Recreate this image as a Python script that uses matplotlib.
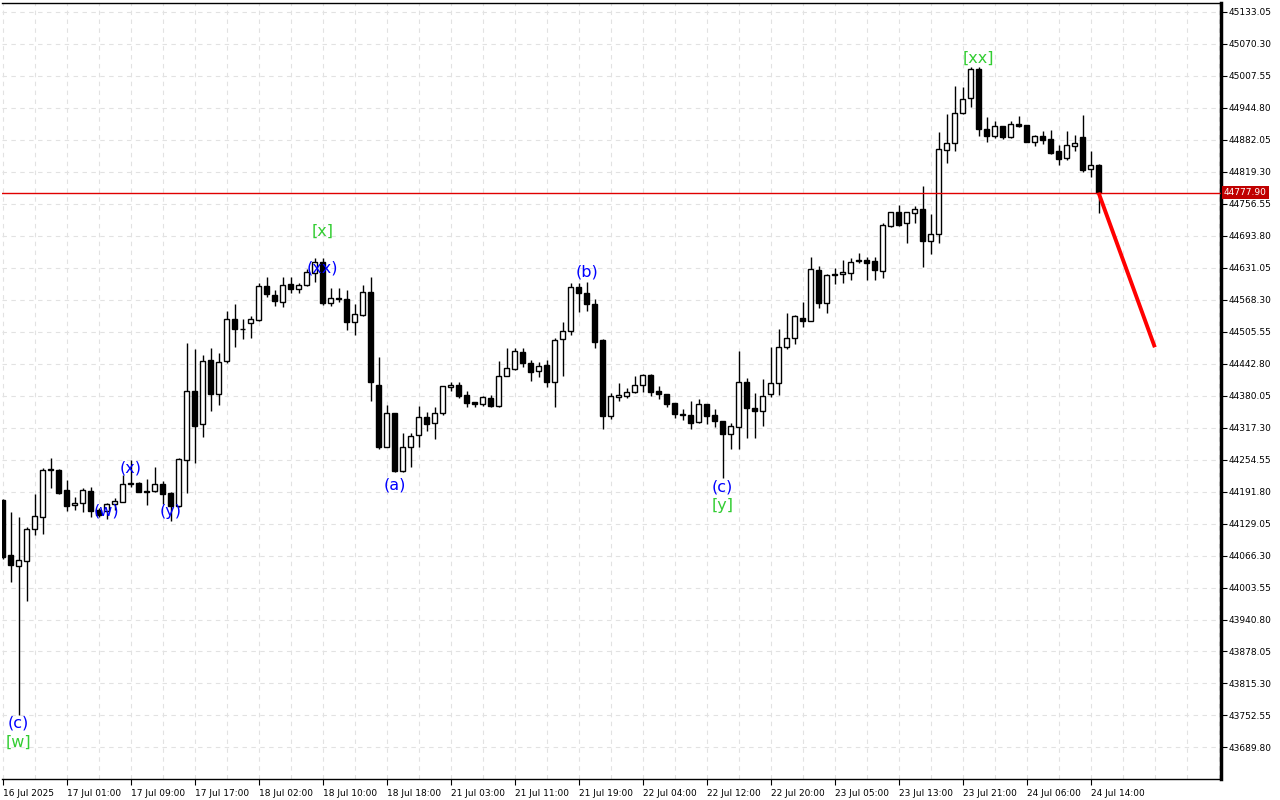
import matplotlib
matplotlib.use("Agg")
import matplotlib.pyplot as plt
from matplotlib.transforms import blended_transform_factory

# ---------------- data (hourly candles) ----------------
opens = [44175.1, 44067.3, 44046.3, 44056.1, 44117.7, 44142.4, 44235.0, 44234.0, 44194.8, 44164.8,
         44168.7, 44193.4, 44155.5, 44154.2, 44166.7, 44171.8, 44209.0, 44209.1, 44192.0, 44193.4,
         44206.5, 44189.5, 44163.4, 44253.6, 44388.3, 44324.2, 44449.7, 44382.4, 44448.3, 44529.5,
         44511.0, 44521.6, 44528.1, 44594.8, 44577.1, 44564.0, 44598.7, 44588.3, 44596.1, 44620.9,
         44642.4, 44562.0, 44569.0, 44568.7, 44524.8, 44537.9, 44582.4, 44400.7, 44279.7, 44345.2,
         44232.6, 44278.5, 44302.6, 44337.3, 44325.5, 44345.2, 44396.2, 44400.7, 44381.0, 44366.7,
         44362.8, 44375.7, 44360.1, 44418.9, 44431.4, 44464.8, 44443.2, 44428.1, 44439.9, 44405.9,
         44490.3, 44507.1, 44592.2, 44580.5, 44559.5, 44488.9, 44340.4, 44376.5, 44379.7, 44387.5,
         44400.1, 44420.3, 44388.9, 44383.0, 44364.7, 44343.0, 44341.8, 44328.8, 44363.4, 44341.8,
         44330.0, 44303.9, 44317.7, 44407.1, 44354.9, 44350.3, 44382.4, 44404.0, 44475.8, 44493.4,
         44531.5, 44526.2, 44626.2, 44560.9, 44617.5, 44617.7, 44620.9, 44643.5, 44645.8, 44643.8,
         44624.8, 44712.4, 44739.3, 44717.7, 44738.5, 44745.2, 44683.6, 44696.7, 44861.5, 44874.6,
         44933.4, 44962.8, 45019.7, 44902.1, 44889.5, 44908.5, 44887.5, 44912.4, 44910.5, 44877.7,
         44888.9, 44883.0, 44859.5, 44845.2, 44869.9, 44887.5, 44823.6, 44832.1]
highs = [44177.0, 44151.7, 44142.4, 44121.6, 44186.9, 44237.9, 44256.9, 44235.3, 44214.4, 44180.4,
         44199.3, 44200.0, 44158.8, 44168.7, 44178.5, 44224.2, 44253.6, 44211.0, 44215.7, 44239.3,
         44213.0, 44191.4, 44256.9, 44482.4, 44470.7, 44459.5, 44472.6, 44462.8, 44546.3, 44559.5,
         44529.5, 44536.0, 44601.2, 44611.8, 44586.9, 44613.0, 44613.0, 44601.2, 44627.5, 44649.1,
         44649.1, 44590.3, 44590.3, 44586.9, 44559.5, 44596.7, 44611.8, 44455.0, 44361.4, 44346.5,
         44307.1, 44305.9, 44359.5, 44348.4, 44358.1, 44399.5, 44407.1, 44407.1, 44388.9, 44367.9,
         44379.1, 44381.0, 44448.3, 44472.6, 44472.6, 44472.6, 44449.7, 44446.3, 44449.7, 44492.2,
         44524.2, 44600.1, 44601.2, 44603.2, 44568.7, 44490.8, 44385.6, 44404.0, 44394.2, 44418.3,
         44422.2, 44422.2, 44398.7, 44383.7, 44366.0, 44353.6, 44369.9, 44372.6, 44364.0, 44353.0,
         44331.0, 44325.5, 44467.9, 44413.8, 44384.4, 44411.8, 44474.6, 44509.9, 44542.4, 44537.0,
         44564.0, 44651.0, 44634.0, 44618.3, 44629.5, 44645.8, 44649.1, 44660.1, 44652.2, 44651.1,
         44718.9, 44740.5, 44753.6, 44740.5, 44751.7, 44790.9, 44736.0, 44897.4, 44932.1, 44987.0,
         44985.6, 45023.6, 45024.8, 44926.8, 44918.9, 44908.5, 44918.3, 44928.1, 44910.5, 44890.9,
         44899.3, 44900.7, 44871.3, 44899.3, 44890.9, 44930.1, 44859.5, 44834.0]
lows = [44060.0, 44014.4, 43753.6, 43977.7, 44106.5, 44108.5, 44199.3, 44186.9, 44154.2, 44155.5,
        44152.2, 44142.4, 44142.4, 44137.3, 44155.5, 44171.0, 44201.2, 44191.0, 44165.4, 44191.4,
        44167.3, 44134.6, 44162.0, 44189.5, 44248.3, 44299.3, 44350.3, 44361.4, 44444.4, 44475.8,
        44490.3, 44492.2, 44526.8, 44573.8, 44556.2, 44554.2, 44581.7, 44581.7, 44594.8, 44603.2,
        44557.5, 44555.5, 44564.0, 44508.5, 44498.7, 44536.0, 44369.9, 44274.6, 44279.0, 44230.6,
        44230.6, 44240.4, 44279.7, 44311.1, 44294.2, 44341.8, 44388.9, 44374.6, 44358.1, 44356.8,
        44359.5, 44358.1, 44358.1, 44418.3, 44430.1, 44435.4, 44409.1, 44416.9, 44397.4, 44358.1,
        44418.3, 44498.7, 44544.4, 44546.3, 44472.6, 44313.8, 44334.0, 44369.9, 44374.6, 44385.6,
        44387.5, 44379.7, 44373.2, 44356.8, 44336.5, 44332.0, 44314.4, 44326.8, 44324.2, 44318.9,
        44218.9, 44275.1, 44274.6, 44297.3, 44297.3, 44320.9, 44376.5, 44381.0, 44470.7, 44481.1,
        44515.0, 44526.0, 44551.0, 44542.4, 44598.7, 44601.2, 44606.5, 44639.3, 44606.5, 44606.5,
        44609.9, 44711.1, 44712.4, 44679.7, 44717.7, 44632.6, 44657.5, 44679.7, 44835.4, 44860.1,
        44932.1, 44945.2, 44888.9, 44877.7, 44884.4, 44883.0, 44885.6, 44906.0, 44877.7, 44869.3,
        44873.2, 44853.6, 44832.1, 44841.9, 44859.5, 44818.9, 44809.1, 44738.5]
closes = [44063.4, 44047.7, 44057.5, 44117.7, 44143.8, 44234.0, 44233.0, 44189.5, 44164.0, 44169.9,
          44194.8, 44154.2, 44146.3, 44166.7, 44172.6, 44206.5, 44207.0, 44191.4, 44191.0, 44206.5,
          44186.9, 44164.0, 44255.0, 44388.3, 44320.8, 44448.3, 44382.4, 44446.3, 44529.5, 44509.9,
          44510.0, 44529.5, 44595.4, 44578.5, 44565.9, 44596.7, 44588.3, 44596.1, 44622.8, 44642.4,
          44562.0, 44570.7, 44571.0, 44524.8, 44539.3, 44582.4, 44407.1, 44279.7, 44345.2, 44232.6,
          44278.5, 44301.3, 44337.3, 44324.2, 44346.5, 44398.7, 44400.7, 44379.7, 44366.0, 44362.8,
          44377.7, 44360.1, 44418.3, 44433.4, 44467.9, 44443.2, 44426.7, 44438.5, 44407.1, 44488.9,
          44506.5, 44592.2, 44580.5, 44558.9, 44485.6, 44340.4, 44379.1, 44380.5, 44387.5, 44400.1,
          44420.3, 44387.5, 44382.4, 44363.4, 44343.1, 44342.0, 44326.8, 44363.4, 44340.4, 44330.0,
          44304.5, 44320.3, 44407.1, 44354.9, 44350.3, 44379.7, 44404.0, 44475.8, 44493.4, 44536.6,
          44526.8, 44627.5, 44560.9, 44616.4, 44615.5, 44622.2, 44642.8, 44645.0, 44640.5, 44626.2,
          44714.4, 44739.3, 44714.4, 44739.3, 44745.2, 44683.6, 44696.7, 44862.8, 44874.6, 44933.4,
          44960.9, 45019.7, 44902.1, 44888.9, 44908.5, 44887.5, 44911.9, 44908.5, 44877.7, 44888.9,
          44881.1, 44855.0, 44843.8, 44871.3, 44875.2, 44822.2, 44832.1, 44777.9]

x_labels = ["16 Jul 2025", "17 Jul 01:00", "17 Jul 09:00", "17 Jul 17:00", "18 Jul 02:00",
            "18 Jul 10:00", "18 Jul 18:00", "21 Jul 03:00", "21 Jul 11:00", "21 Jul 19:00",
            "22 Jul 04:00", "22 Jul 12:00", "22 Jul 20:00", "23 Jul 05:00", "23 Jul 13:00",
            "23 Jul 21:00", "24 Jul 06:00", "24 Jul 14:00"]
x_label_step = 8
y_ticks = [43689.80, 43752.55, 43815.30, 43878.05, 43940.80, 44003.55, 44066.30, 44129.05,
           44191.80, 44254.55, 44317.30, 44380.05, 44442.80, 44505.55, 44568.30, 44631.05,
           44693.80, 44756.55, 44819.30, 44882.05, 44944.80, 45007.55, 45070.30, 45133.05]
current_price = 44777.90
forecast_x = [137, 144.04]
forecast_y = [44777.90, 44474.6]

wave_text = ["(c)", "[w]", "(w)", "(x)", "(y)", "[x]", "(xx)", "(a)", "(b)", "(c)", "[y]", "[xx]"]
wave_x = [2, 2, 13, 16, 21, 40, 40, 49, 73, 90, 90, 122]
wave_y = [43738, 43700, 44153, 44238, 44152, 44703, 44630, 44205, 44622, 44201, 44165, 45042]
wave_col = ["#0000FF", "#32CD32", "#0000FF", "#0000FF", "#0000FF", "#32CD32", "#0000FF",
            "#0000FF", "#0000FF", "#0000FF", "#32CD32", "#32CD32"]

# ---------------- figure ----------------
W, H = 1280, 800
fig = plt.figure(figsize=(12.8, 8), dpi=100)
ax = fig.add_axes([2 / W, 21 / H, 1219 / W, 776 / H])

ax.set_xlim(-0.0625, 152.31)
ax.set_ylim(43628.03, 45149.72)

# grid
n = len(opens)
for gx in range(0, 153, 4):
    ax.axvline(gx, color="#E2E2E2", lw=0.8, ls=(0, (4, 4)), zorder=0)
for gy in y_ticks:
    ax.axhline(gy, color="#E2E2E2", lw=0.8, ls=(0, (4, 4)), zorder=0)

# candles
idx = list(range(n))
ax.vlines(idx, lows, highs, color="black", lw=1.0, zorder=2)
bottoms = [min(o, c) for o, c in zip(opens, closes)]
heights = [abs(c - o) for o, c in zip(opens, closes)]
faces = ["white" if c >= o else "black" for o, c in zip(opens, closes)]
ax.bar(idx, heights, width=0.62, bottom=bottoms, color=faces, edgecolor="black",
       linewidth=1.0, zorder=3)

# current price line
ax.axhline(current_price, color="#E00000", lw=1.0, zorder=4)
# forecast line
ax.plot(forecast_x, forecast_y, color="#FF0000", lw=2.8, solid_capstyle="butt", zorder=5)

# wave labels
for t, xx, yy, cc in zip(wave_text, wave_x, wave_y, wave_col):
    ax.text(xx, yy, t, color=cc, fontsize=11.5, ha="center", va="center", zorder=6)

# axes styling
for s in ["left"]:
    ax.spines[s].set_visible(False)
ax.spines["top"].set_linewidth(1.0)
ax.spines["bottom"].set_linewidth(1.0)
ax.spines["right"].set_linewidth(2.5)

ax.yaxis.tick_right()
ax.set_yticks(y_ticks)
ax.set_yticklabels([f"{v:.2f}" for v in y_ticks])
ax.tick_params(axis="y", direction="out", length=4, width=0.8, labelsize=6.5, pad=1.5)

xt = [i * x_label_step for i in range(len(x_labels))]
ax.set_xticks(xt)
ax.set_xticklabels(x_labels, ha="left")
ax.tick_params(axis="x", direction="out", length=4, width=0.8, labelsize=6.5, pad=3)

# price tag
tr = blended_transform_factory(ax.transAxes, ax.transData)
ax.text(1.0025, current_price, f"{current_price:.2f}", transform=tr, color="white",
        fontsize=6.5, ha="left", va="center", zorder=10, clip_on=False,
        bbox=dict(boxstyle="square,pad=0.2", facecolor="#C00000", edgecolor="none"))

fig.savefig("out.png", dpi=100)
